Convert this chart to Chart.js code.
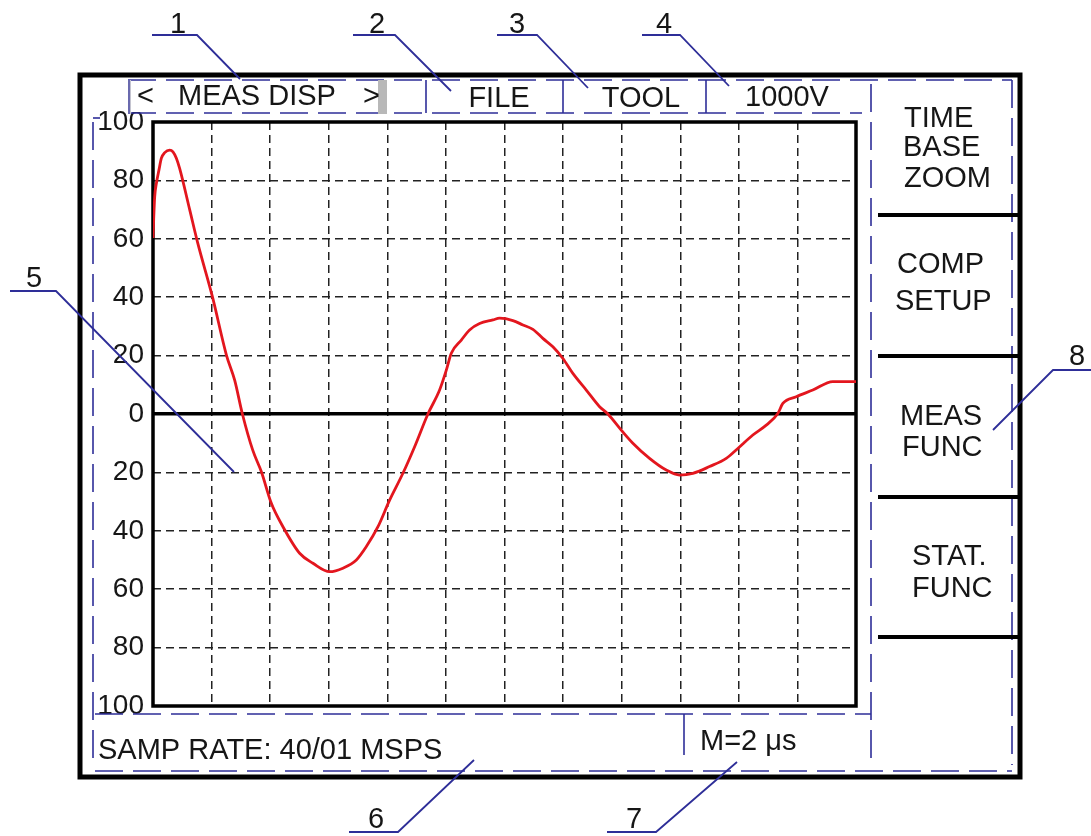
<!DOCTYPE html>
<html>
<head>
<meta charset="utf-8">
<script src="https://cdn.jsdelivr.net/npm/chart.js@4.4.1/dist/chart.umd.min.js"></script>
<style>
  html, body { margin: 0; padding: 0; background: #fff; }
  canvas { display: block; }
</style>
</head>
<body>
<canvas id="c" width="1091" height="836"></canvas>
<script>
// Time axis in screen divisions (12 divisions), amplitude in % of full scale
const timeDiv = [0,0.012,0.029,0.058,0.102,0.143,0.2,0.285,0.341,0.399,
  0.456,0.626,0.763,1.014,1.253,1.394,1.526,1.701,1.85,2.02,
  2.218,2.503,2.73,3.015,3.242,3.471,3.642,3.84,4.039,4.266,
  4.466,4.693,4.892,5.007,5.092,5.263,5.404,5.575,5.802,5.916,
  6.143,6.314,6.485,6.655,6.826,6.997,7.167,7.396,7.623,7.765,
  7.993,8.191,8.476,8.761,8.988,9.215,9.5,9.785,9.983,10.239,
  10.468,10.666,10.751,10.98,11.263,11.604,12];
const amplitude = [60.3,67,74.4,79,83.6,87.6,89.5,90.4,89.8,87.6,
  84,70,58.6,40.2,20.2,11.6,0,-12.3,-19.8,-30.6,
  -38.6,-47.7,-51.1,-54,-52.8,-50,-45.4,-38.6,-29.5,-20.3,
  -11.2,0,8.2,15,20.8,25.3,28.8,31,32.2,32.8,
  32,30.5,29,25.9,23,19,13.9,8.2,2.5,0,
  -5.5,-10,-15.2,-19.2,-20.9,-20.3,-18,-15.2,-11.8,-7.2,
  -3.8,0.2,3.6,5.9,8.2,11.1,11.1];
const yTickValues = [-100,-80,-60,-40,-20,0,20,40,60,80,100];

const headerLabels = ['FILE', 'TOOL', '1000V'];
const sideButtons = [['TIME','BASE','ZOOM'], ['COMP','SETUP'], ['MEAS','FUNC'], ['STAT.','FUNC']];
const footerLeft = 'SAMP RATE: 40/01 MSPS';
const footerRight = 'M=2 \u03BCs';
const calloutNumbers = ['1','2','3','4','5','6','7','8'];

const FONT = "Arial, 'Liberation Sans', sans-serif";
const BLUE = '#2e2e98';
const INK = '#161616';

const decor = {
  id: 'decor',
  beforeDraw(chart) {
    const ctx = chart.ctx;
    ctx.save();
    ctx.fillStyle = '#fff';
    ctx.fillRect(0, 0, chart.width, chart.height);
    ctx.restore();
  },
  beforeDatasetsDraw(chart) {
    const {ctx, chartArea: a} = chart;
    ctx.save();
    ctx.strokeStyle = '#000';
    ctx.lineWidth = 3.5;
    ctx.setLineDash([]);
    ctx.strokeRect(a.left, a.top, a.right - a.left, a.bottom - a.top);
    ctx.restore();
  },
  afterDraw(chart) {
    const ctx = chart.ctx;
    ctx.save();
    const line = (pts, color, lw, dash) => {
      ctx.beginPath();
      ctx.strokeStyle = color; ctx.lineWidth = lw;
      ctx.setLineDash(dash || []);
      ctx.moveTo(pts[0][0], pts[0][1]);
      for (let i = 1; i < pts.length; i++) ctx.lineTo(pts[i][0], pts[i][1]);
      ctx.stroke();
    };
    const dashed = (x1,y1,x2,y2) => line([[x1,y1],[x2,y2]], BLUE, 1.6, [28,10]);
    const txt = (s, x, y, align) => {
      ctx.font = '29px ' + FONT;
      ctx.fillStyle = INK;
      ctx.textAlign = align || 'left';
      ctx.textBaseline = 'alphabetic';
      ctx.fillText(s, x, y);
    };

    // outer instrument frame
    ctx.setLineDash([]);
    ctx.strokeStyle = '#000'; ctx.lineWidth = 5;
    ctx.strokeRect(80, 75, 940, 702);

    // blue dashed panel frames
    dashed(128, 80, 1012, 80);
    dashed(128, 113, 862, 113);
    dashed(1012, 80, 1012, 765);
    dashed(871, 84, 871, 762);
    dashed(93, 122, 93, 766);
    dashed(95, 714, 871, 714);
    dashed(95, 771, 1012, 771);
    line([[93,118],[100,118]], BLUE, 1.6);

    // MEAS DISP button
    ctx.fillStyle = '#fff';
    ctx.fillRect(131, 82, 246, 30);
    ctx.fillStyle = '#b8b8b8';
    ctx.fillRect(378, 80, 9, 34);
    ctx.fillStyle = '#c4c4d0';
    ctx.fillRect(128, 80, 3, 34);
    line([[129,80],[129,114]], BLUE, 1.2);

    // header separators
    [426, 563, 706].forEach(x => line([[x,80],[x,113]], BLUE, 1.6));
    // time/div box separator
    line([[684,714],[684,755]], BLUE, 1.6);

    // side button separators
    [215, 356, 497, 637].forEach(y => line([[878,y],[1020,y]], '#000', 4));

    // header texts
    txt('<', 137, 105);
    txt('MEAS DISP', 178, 105);
    txt('>', 363, 105);
    txt(headerLabels[0], 499, 107, 'center');
    txt(headerLabels[1], 641, 107, 'center');
    txt(headerLabels[2], 787, 106, 'center');

    // side texts
    txt(sideButtons[0][0], 904, 127);
    txt(sideButtons[0][1], 903, 156);
    txt(sideButtons[0][2], 904, 187);
    txt(sideButtons[1][0], 897, 273);
    txt(sideButtons[1][1], 895, 310);
    txt(sideButtons[2][0], 900, 425);
    txt(sideButtons[2][1], 902, 456);
    txt(sideButtons[3][0], 912, 565);
    txt(sideButtons[3][1], 912, 597);

    // footer texts
    txt(footerLeft, 98, 759);
    txt(footerRight, 700, 750);

    // callout numbers and leader lines
    const callouts = [
      {n: 0, tx: 178, ty: 33, pts: [[152,35],[197,35],[240,79]]},
      {n: 1, tx: 377, ty: 33, pts: [[353,35],[395,35],[451,91]]},
      {n: 2, tx: 517, ty: 33, pts: [[497,35],[537,35],[588,88]]},
      {n: 3, tx: 664, ty: 33, pts: [[642,35],[680,35],[729,86]]},
      {n: 4, tx: 34, ty: 287, pts: [[10,291],[56,291],[234,472]]},
      {n: 5, tx: 376, ty: 828, pts: [[349,832],[398,832],[474,760]]},
      {n: 6, tx: 634, ty: 828, pts: [[607,832],[656,832],[737,762]]},
      {n: 7, tx: 1077, ty: 365, pts: [[1091,370],[1053,370],[993,430]]}
    ];
    callouts.forEach(c => {
      txt(calloutNumbers[c.n], c.tx, c.ty, 'center');
      line(c.pts, BLUE, 1.8);
    });
    ctx.restore();
  }
};

const points = timeDiv.map((t, i) => ({x: t, y: amplitude[i]}));

new Chart(document.getElementById('c'), {
  type: 'line',
  data: {
    datasets: [{
      data: points,
      borderColor: '#e3161e',
      borderWidth: 2.8,
      pointRadius: 0,
      fill: false,
      cubicInterpolationMode: 'monotone'
    }]
  },
  options: {
    responsive: false,
    animation: false,
    devicePixelRatio: 1,
    layout: { padding: { left: 0, top: 122, right: 235, bottom: 130 } },
    plugins: { legend: { display: false }, tooltip: { enabled: false } },
    scales: {
      x: {
        type: 'linear', min: 0, max: 12,
        afterFit: s => { s.height = 0; },
        ticks: { display: false, stepSize: 1 },
        grid: {
          drawTicks: false,
          lineWidth: 1.5,
          color: c => (c.tick && (c.tick.value === 0 || c.tick.value === 12)) ? 'rgba(0,0,0,0)' : '#222'
        },
        border: { display: false, dash: [8, 5] }
      },
      y: {
        type: 'linear', min: -100, max: 100,
        afterFit: s => { s.width = 153; },
        afterBuildTicks: s => { s.ticks = yTickValues.map(v => ({value: v})); },
        ticks: {
          padding: 9,
          color: INK,
          font: { family: FONT, size: 28 },
          callback: v => String(Math.abs(v))
        },
        grid: {
          drawTicks: false,
          lineWidth: c => (c.tick && c.tick.value === 0) ? 3.5 : 1.5,
          color: c => (c.tick && (c.tick.value === -100 || c.tick.value === 100)) ? 'rgba(0,0,0,0)' : (c.tick && c.tick.value === 0 ? '#000' : '#222')
        },
        border: { display: false, dash: c => (c.tick && c.tick.value === 0) ? [] : [8, 5] }
      }
    }
  },
  plugins: [decor]
});
</script>
</body>
</html>
